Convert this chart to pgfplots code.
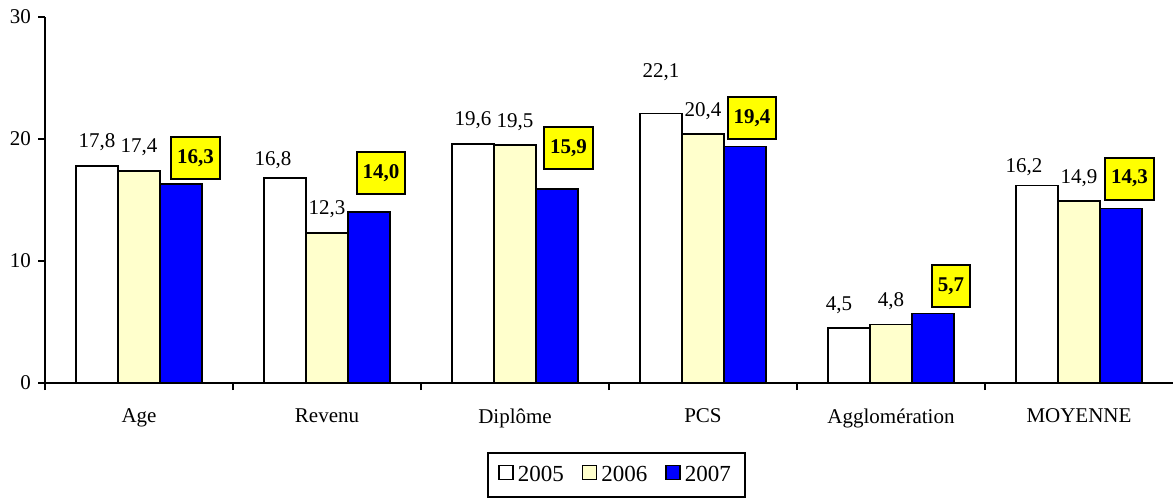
\documentclass[border=0pt]{standalone}
\usepackage{pgfplots}
\pgfplotsset{compat=1.18}
\usepackage{pgfplotstable}
\usepackage{fontspec}
\setmainfont{Liberation Serif}
\definecolor{cLight}{RGB}{255,255,204}
\definecolor{cBlue}{RGB}{0,0,255}
\definecolor{cYel}{RGB}{255,255,0}

\pgfplotstableread{
x y dx dy
0 17.8 0 9
1 16.8 -6 6.5
2 19.6 0 9
3 22.1 0 18
4 4.5 -5 9
5 16.2 -6.5 6.5
}\tA
\pgfplotstableread{
x y dx dy
0 17.4 0 9
1 12.3 0 9
2 19.5 0 9
3 20.4 0 9
4 4.8 0 9
5 14.9 0 9
}\tB
\pgfplotstableread{
x y dx dy
0 16.3 7.25 2
1 14.0 6 8.5
2 15.9 5.75 9.5
3 19.4 3.5 3
4 5.7 9 2.5
5 14.3 4.25 4
}\tC

\begin{document}
\begin{tikzpicture}
\useasboundingbox (-22.5pt,-57.5pt) rectangle (564pt,191.5pt);
\begin{axis}[
  scale only axis,
  width=564pt, height=183pt,
  ybar=0pt, bar width=21pt,
  xmin=-0.5, xmax=5.5, ymin=0, ymax=30,
  enlargelimits=false,
  axis lines*=left,
  axis line style={line width=1pt, black},
  ytick={0,10,20,30},
  xtick={0,...,5},
  xticklabels={Age,Revenu,Diplôme,PCS,Agglomération,MOYENNE},
  minor xtick={-0.5,0.5,1.5,2.5,3.5,4.5},
  tick align=outside,
  major tick length=3.5pt,
  minor tick length=3.5pt,
  major x tick style={draw=none},
  tick style={line width=1pt, black},
  tick label style={font=\fontsize{10.5}{12}\selectfont},
  xticklabel style={yshift=-6pt},
  /pgf/number format/assume math mode=true,
  clip=false,
  legend columns=3,
  legend style={
    at={(0.5067,-0.2514)}, anchor=center,
    draw=black, line width=1pt,
    font=\fontsize{11.5}{13}\selectfont,
    inner xsep=5pt, inner ysep=4.2pt,
    /tikz/every even column/.append style={column sep=7pt},
  },
  legend image code/.code={\draw[#1, line width=0.8pt] (0pt,-2.2pt) rectangle (7pt,4.8pt);},
  visualization depends on=\thisrow{dx} \as \dx,
  visualization depends on=\thisrow{dy} \as \dy,
  nodes near coords={\pgfmathprintnumber[fixed,fixed zerofill,precision=1,use comma]{\pgfplotspointmeta}},
]
\addplot[draw=black, fill=white, line width=0.8pt,
  every node near coord/.append style={font=\fontsize{10.5}{12}\selectfont, anchor=base, inner sep=0pt, xshift=\dx pt, yshift=\dy pt}]
  table[x=x,y=y] {\tA};
\addplot[draw=black, fill=cLight, line width=0.8pt,
  every node near coord/.append style={font=\fontsize{10.5}{12}\selectfont, anchor=base, inner sep=0pt, xshift=\dx pt, yshift=\dy pt}]
  table[x=x,y=y] {\tB};
\addplot[draw=black, fill=cBlue, line width=0.8pt,
  every node near coord/.append style={font=\fontsize{10.5}{12}\selectfont\bfseries, anchor=south, fill=cYel, draw=black, line width=1pt, inner xsep=3pt, inner ysep=0pt, minimum height=21pt, xshift=\dx pt, yshift=\dy pt}]
  table[x=x,y=y] {\tC};
\legend{2005,2006,2007}
\end{axis}
\end{tikzpicture}
\end{document}
